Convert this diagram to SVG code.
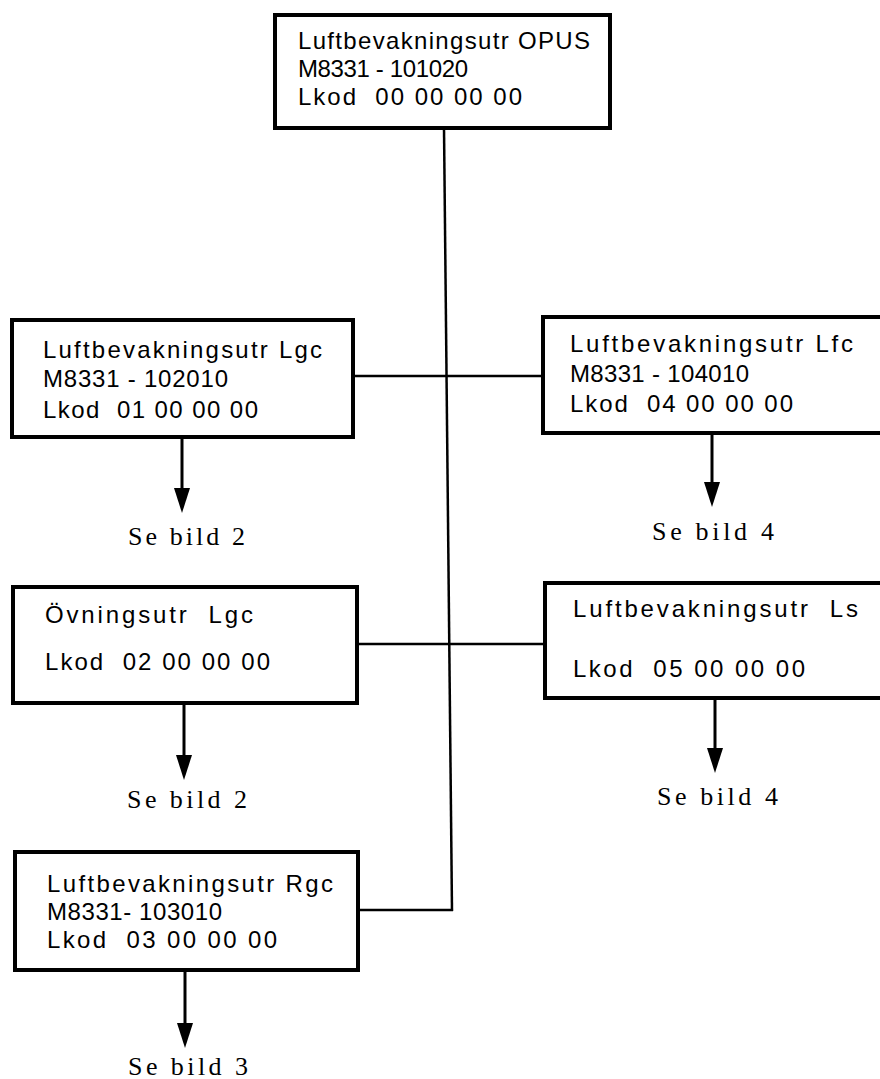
<svg xmlns="http://www.w3.org/2000/svg" width="880" height="1079" viewBox="0 0 880 1079">
<style>
.box{fill:#fff;stroke:#000;stroke-width:4}
.t{font-family:"Liberation Sans","DejaVu Sans",sans-serif;font-size:24px;fill:#000}
.s{font-family:"Liberation Serif","DejaVu Serif",serif;font-size:26px;fill:#000}
.c{stroke:#000;stroke-width:2.5;fill:none}
.a{stroke:#000;stroke-width:3;fill:none}
</style>
<defs>
<marker id="ah" markerUnits="userSpaceOnUse" markerWidth="16" markerHeight="26" refX="8" refY="25" orient="auto-start-reverse" viewBox="0 0 16 26">
<path d="M0,0 L16,0 L8,26 Z" fill="#000" transform="rotate(0)"/>
</marker>
</defs>
<g id="connectors">
<line class="c" x1="444" y1="128" x2="452" y2="911"/>
<line class="c" x1="353" y1="376" x2="543" y2="376"/>
<line class="c" x1="357" y1="644" x2="545" y2="644"/>
<line class="c" x1="358" y1="910" x2="453" y2="910"/>
<path d="M182,437 L182,490" class="a"/><path d="M174,488 L190,488 L182,513 Z"/>
<path d="M712,433 L712,484" class="a"/><path d="M704,482 L720,482 L712,507 Z"/>
<path d="M184,703 L184,757" class="a"/><path d="M176,755 L192,755 L184,780 Z"/>
<path d="M715,698 L715,750" class="a"/><path d="M707,748 L723,748 L715,773 Z"/>
<path d="M185,970 L185,1025" class="a"/><path d="M177,1023 L193,1023 L185,1048 Z"/>
</g>
<g id="n-opus">
<rect class="box" x="275" y="15" width="335" height="113"/>
<text class="t" x="298" y="49" textLength="292" lengthAdjust="spacing">Luftbevakningsutr OPUS</text>
<text class="t" x="298" y="77" textLength="170" lengthAdjust="spacing">M8331 - 101020</text>
<text class="t" x="298" y="105" textLength="224" lengthAdjust="spacing" xml:space="preserve">Lkod  00 00 00 00</text>
</g>
<g id="n-lgc">
<rect class="box" x="12" y="320" width="341" height="117"/>
<text class="t" x="43" y="358" textLength="279" lengthAdjust="spacing">Luftbevakningsutr Lgc</text>
<text class="t" x="43" y="387" textLength="185" lengthAdjust="spacing">M8331 - 102010</text>
<text class="t" x="43" y="418" textLength="215" lengthAdjust="spacing" xml:space="preserve">Lkod  01 00 00 00</text>
<text class="s" x="128" y="545" textLength="117" lengthAdjust="spacing">Se bild 2</text>
</g>
<g id="n-lfc">
<rect class="box" x="543" y="317" width="345" height="116"/>
<text class="t" x="570" y="352" textLength="283" lengthAdjust="spacing">Luftbevakningsutr  Lfc</text>
<text class="t" x="570" y="382" textLength="179" lengthAdjust="spacing">M8331 - 104010</text>
<text class="t" x="570" y="412" textLength="223" lengthAdjust="spacing" xml:space="preserve">Lkod  04 00 00 00</text>
<text class="s" x="652" y="540" textLength="122" lengthAdjust="spacing">Se bild 4</text>
</g>
<g id="n-ovn">
<rect class="box" x="13" y="587" width="344" height="116"/>
<text class="t" x="45" y="623" textLength="208" lengthAdjust="spacing" xml:space="preserve">Övningsutr  Lgc</text>
<text class="t" x="45" y="670" textLength="225" lengthAdjust="spacing" xml:space="preserve">Lkod  02 00 00 00</text>
<text class="s" x="127" y="808" textLength="120" lengthAdjust="spacing">Se bild 2</text>
</g>
<g id="n-ls">
<rect class="box" x="545" y="583" width="345" height="115"/>
<text class="t" x="573" y="617" textLength="285" lengthAdjust="spacing" xml:space="preserve">Luftbevakningsutr  Ls</text>
<text class="t" x="573" y="677" textLength="232" lengthAdjust="spacing" xml:space="preserve">Lkod  05 00 00 00</text>
<text class="s" x="657" y="805" textLength="121" lengthAdjust="spacing">Se bild 4</text>
</g>
<g id="n-rgc">
<rect class="box" x="15" y="852" width="343" height="118"/>
<text class="t" x="47" y="892" textLength="286" lengthAdjust="spacing">Luftbevakningsutr Rgc</text>
<text class="t" x="47" y="920" textLength="175" lengthAdjust="spacing">M8331- 103010</text>
<text class="t" x="47" y="948" textLength="230" lengthAdjust="spacing" xml:space="preserve">Lkod  03 00 00 00</text>
<text class="s" x="128" y="1075" textLength="120" lengthAdjust="spacing">Se bild 3</text>
</g>
</svg>
